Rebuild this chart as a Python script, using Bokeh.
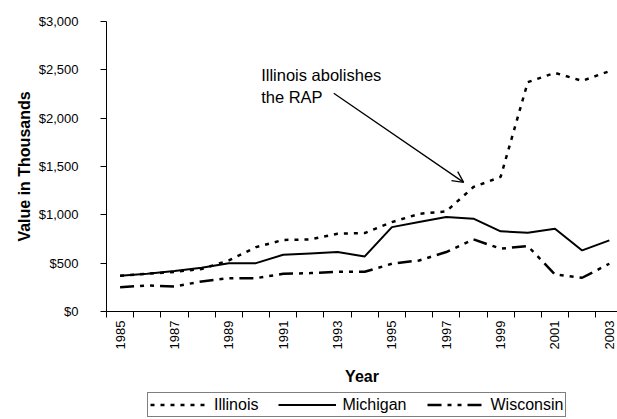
from bokeh.plotting import figure
from bokeh.layouts import column
from bokeh.models import (FixedTicker, NumeralTickFormatter, PrintfTickFormatter, Legend,
                          LegendItem, Arrow, OpenHead, Label, Range1d)
from bokeh.embed import file_html
from bokeh.resources import INLINE
import math

# ---- data (values in thousands of dollars) ----
years = list(range(1985, 2004))
illinois = [370, 390, 410, 440, 528, 666, 740, 746, 805, 811, 925, 1010, 1036, 1288, 1392, 2373, 2469, 2386, 2486]
michigan = [370, 390, 418, 452, 500, 500, 587, 601, 615, 570, 873, 925, 977, 960, 829, 815, 857, 632, 736]
wisconsin = [252, 269, 259, 311, 345, 345, 390, 397, 411, 411, 494, 528, 615, 746, 650, 677, 383, 349, 494]
series_names = ["Illinois", "Michigan", "Wisconsin"]
y_ticks = [0, 500, 1000, 1500, 2000, 2500, 3000]
x_label_years = list(range(1985, 2004, 2))
annotation_text = "Illinois abolishes\nthe RAP"

FONT = "Liberation Sans"
STYLES = [dict(line_color="black", line_width=2.5, line_dash="4 6"),
          dict(line_color="black", line_width=2),
          dict(line_color="black", line_width=2.5, line_dash="14 6 4 6 4 6")]
SERIES = [illinois, michigan, wisconsin]

p = figure(frame_width=511, frame_height=290, output_backend="svg", toolbar_location=None,
           x_range=Range1d(1984.5, 2003.3), y_range=Range1d(0, 3000),
           min_border_left=106, min_border_right=0, min_border_top=21, min_border_bottom=77)
p.outline_line_color = None
p.xgrid.visible = False
p.ygrid.visible = False
p.background_fill_color = "white"
p.border_fill_color = "white"

for vals, st in zip(SERIES, STYLES):
    p.line(years, vals, **st)

# x axis
xa = p.xaxis[0]
xa.ticker = FixedTicker(ticks=x_label_years, minor_ticks=[y - 0.5 for y in years] + [2003.5])
xa.formatter = PrintfTickFormatter(format="%d")
xa.major_tick_line_color = None
xa.major_tick_out = 6
xa.major_tick_in = 0
xa.minor_tick_line_color = "black"
xa.minor_tick_out = 6
xa.minor_tick_in = 0
xa.major_label_orientation = math.pi / 2
xa.major_label_standoff = 3
xa.major_label_text_font = FONT
xa.major_label_text_font_size = "13px"
xa.major_label_text_color = "black"
xa.axis_line_color = "black"
xa.axis_label = "Year"
xa.axis_label_text_font = FONT
xa.axis_label_text_font_style = "bold"
xa.axis_label_text_font_size = "16px"
xa.axis_label_text_color = "black"
xa.axis_label_standoff = 16

# y axis
ya = p.yaxis[0]
ya.ticker = FixedTicker(ticks=y_ticks)
ya.formatter = NumeralTickFormatter(format="$0,0")
ya.major_tick_out = 6
ya.major_tick_in = 0
ya.major_tick_line_color = "black"
ya.minor_tick_line_color = None
ya.major_label_standoff = 22
ya.major_label_text_font = FONT
ya.major_label_text_font_size = "13px"
ya.major_label_text_color = "black"
ya.axis_line_color = "black"
ya.axis_label = "Value in Thousands"
ya.axis_label_text_font = FONT
ya.axis_label_text_font_style = "bold"
ya.axis_label_text_font_size = "16px"
ya.axis_label_text_color = "black"
ya.axis_label_standoff = 3

# annotation
lab = Label(x=1990.19, y=2540, text=annotation_text, text_font=FONT, text_font_size="16.5px",
            text_color="black", text_baseline="top", text_align="left")
p.add_layout(lab)
arr = Arrow(x_start=1992.86, y_start=2258, x_end=1997.64, y_end=1336,
            line_color="black", line_width=1.3,
            end=OpenHead(size=11, line_color="black", line_width=1.3))
p.add_layout(arr)

# legend strip below the chart (series drawn outside its visible range,
# so only the legend keys show)
lf = figure(width=617, height=31, output_backend="svg", toolbar_location=None,
            x_axis_type=None, y_axis_type=None,
            x_range=Range1d(0, 1), y_range=Range1d(0, 1),
            min_border_left=0, min_border_right=0, min_border_top=0, min_border_bottom=0)
lf.outline_line_color = None
lf.background_fill_color = "white"
lf.border_fill_color = "white"
items = []
for name, vals, st in zip(series_names, SERIES, STYLES):
    r = lf.line(years, vals, **st)
    items.append(LegendItem(label=name, renderers=[r]))
legend = Legend(items=items, location=(41, 2), orientation="horizontal",
                border_line_color="black", border_line_width=1,
                background_fill_color="white", background_fill_alpha=1,
                label_text_font=FONT, label_text_font_size="16px", label_text_color="black",
                glyph_width=58, glyph_height=19, label_height=19, label_standoff=6, spacing=20,
                padding=2, margin=0)
lf.add_layout(legend)

open("out.html", "w").write(file_html(column(p, lf, spacing=0), INLINE))
